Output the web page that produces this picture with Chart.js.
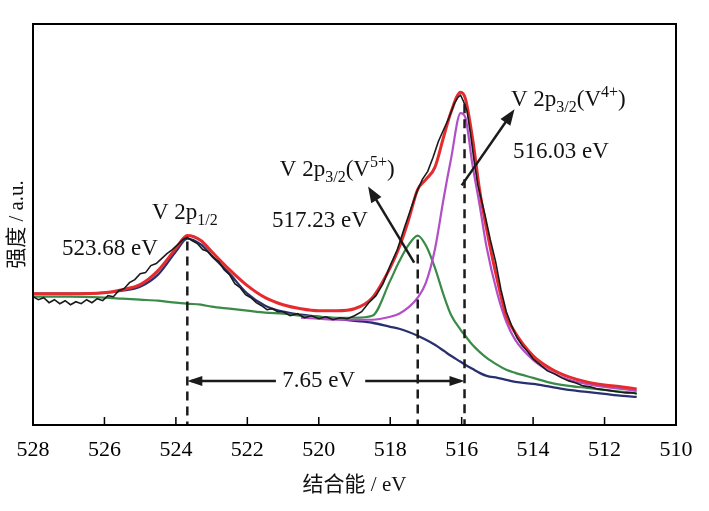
<!DOCTYPE html>
<html>
<head>
<meta charset="utf-8">
<script src="https://cdn.jsdelivr.net/npm/chart.js@4.4.1/dist/chart.umd.min.js"></script>
<style>
  body { margin: 0; background: #fff; }
  #wrap { width: 709px; height: 511px; }
</style>
</head>
<body>
<div id="wrap"><canvas id="xps" width="709" height="511"></canvas></div>
<script>
// binding energy grid of the fitted curves (eV)
const fitEnergy = [528, 527, 526, 525.5, 525, 524.5, 524, 523.68, 523.3, 523, 522.5, 522, 521.5, 521, 520.5, 520, 519.5, 519, 518.5, 518,
  517.75, 517.5, 517.23, 517, 516.75, 516.5, 516.3, 516.03, 515.9, 515.7, 515.5, 515.3, 515, 514.75, 514.5, 514, 513.5, 513, 512.5, 512, 511.5, 511.1];

// fitted envelope (red)
const envelope = [131, 131, 132, 135, 140, 154, 176, 189, 184, 173, 155, 139, 127, 120, 116, 114, 114, 116, 127, 157,
  177, 203, 235, 245, 257, 288, 312, 332, 326, 287, 235, 195, 144, 109, 92, 69, 56, 48, 43, 40, 38, 36];
// V 2p1/2 component + background (navy)
const p12 = [131, 131, 132, 134, 138, 150, 173, 186, 180, 169, 151, 131, 119, 113, 110, 108, 106, 104, 102, 98,
  96, 93, 89, 85, 80, 74, 69, 63, 60, 56, 52, 49, 47, 45, 43, 41, 38, 35, 33, 31, 29, 28];
// V5+ 2p3/2 component + background (green)
const v5 = [128, 128, 127, 126, 125, 124, 122, 121, 120, 118, 116, 114, 112, 111, 109, 108, 107, 107, 109, 144,
  163, 179, 189, 179, 157, 129, 110, 95, 89, 80, 73, 67, 60, 55, 52, 47, 42, 39, 37, 35, 33, 32];
// V4+ 2p3/2 component + background (purple)
const v4 = [null, null, null, null, null, null, null, null, null, null, null, null, null, null, 107, 106, 105, 105, 105, 108,
  111, 117, 127, 142, 175, 227, 265, 311, 307, 260, 220, 177, 131, 103, 85, 65, 53, 45, 41, 38, 36, 34];

// measured spectrum (black)
const rawEnergy = [528.0, 527.85, 527.7, 527.55, 527.4, 527.25, 527.1, 526.95, 526.8, 526.65, 526.5, 526.35, 526.2, 526.05, 525.9, 525.75,
  525.6, 525.45, 525.3, 525.15, 525.0, 524.85, 524.7, 524.55, 524.4, 524.25, 524.1, 523.95, 523.8, 523.68, 523.55, 523.4, 523.25, 523.1,
  522.95, 522.8, 522.65, 522.5, 522.35, 522.2, 522.05, 521.9, 521.75, 521.6, 521.45, 521.3, 521.15, 521.0, 520.8, 520.6, 520.4, 520.2,
  520.0, 519.8, 519.6, 519.4, 519.2, 519.0, 518.8, 518.6, 518.4, 518.2, 518.0, 517.8, 517.6, 517.4, 517.25, 517.1, 516.95, 516.8,
  516.65, 516.5, 516.35, 516.2, 516.1, 516.03, 515.95, 515.85, 515.75, 515.65, 515.55, 515.45, 515.35, 515.2, 515.05, 514.9, 514.75,
  514.6, 514.45, 514.3, 514.15, 514.0, 513.8, 513.6, 513.4, 513.2, 513.0, 512.8, 512.6, 512.4, 512.2, 512.0, 511.8, 511.6, 511.4, 511.2, 511.1];
const rawCounts = [128, 125, 127, 122, 125, 121, 124, 120, 123, 121, 125, 122, 126, 124, 129, 128,
  134, 136, 142, 145, 151, 152, 159, 161, 166, 171, 175, 180, 185, 187, 184, 181, 175, 173,
  167, 163, 155, 150, 141, 137, 130, 127, 122, 119, 115, 116, 113, 113, 109, 111, 107, 109,
  106, 108, 105, 107, 106, 109, 113, 122, 129, 141, 159, 175, 197, 218, 233, 245, 253, 267,
  283, 295, 307, 321, 327, 329, 323, 313, 290, 263, 240, 225, 210, 185, 163, 135, 113,
  99, 87, 79, 73, 66, 60, 54, 51, 47, 44, 42, 39, 38, 36, 35, 34, 33, 32, 32, 31];

const xTicks = [528, 526, 524, 522, 520, 518, 516, 514, 512, 510];
const peakPos = [523.68, 517.23, 515.92];

const SERIF = "'Liberation Serif', 'Noto Sans CJK SC', serif";

function pts(xs, ys) {
  return xs.map(function (x, i) { return { x: x, y: ys[i] }; });
}

function arrowHead(ctx, x1, y1, x2, y2, len, half) {
  const a = Math.atan2(y2 - y1, x2 - x1);
  ctx.beginPath();
  ctx.moveTo(x2, y2);
  ctx.lineTo(x2 - len * Math.cos(a) + half * Math.sin(a), y2 - len * Math.sin(a) - half * Math.cos(a));
  ctx.lineTo(x2 - len * Math.cos(a) - half * Math.sin(a), y2 - len * Math.sin(a) + half * Math.cos(a));
  ctx.closePath();
  ctx.fill();
}

// text with sub / superscripts: parts = [[text, 'n'|'sub'|'sup'], ...]
function richText(ctx, x, y, parts) {
  let cx = x;
  parts.forEach(function (p) {
    let size = 23, dy = 0;
    if (p[1] === 'sub') { size = 16; dy = 6; }
    if (p[1] === 'sup') { size = 16; dy = -9; }
    ctx.font = size + 'px ' + SERIF;
    ctx.fillText(p[0], cx, y + dy);
    cx += ctx.measureText(p[0]).width;
  });
}

const decor = {
  id: 'decor',
  beforeDraw(chart) {
    const ctx = chart.ctx;
    ctx.save();
    ctx.fillStyle = '#fff';
    ctx.fillRect(0, 0, chart.width, chart.height);
    ctx.restore();
  },
  afterDatasetsDraw(chart) {
    const ctx = chart.ctx, xs = chart.scales.x, ys = chart.scales.y, a = chart.chartArea;
    const X = function (v) { return xs.getPixelForValue(v); };
    const Y = function (v) { return ys.getPixelForValue(v); };
    ctx.save();

    // dashed peak markers
    ctx.strokeStyle = '#1b1b1b';
    ctx.lineWidth = 2.5;
    ctx.setLineDash([9, 6]);
    const tops = [183, 185, 320];
    peakPos.forEach(function (e, i) {
      ctx.beginPath();
      ctx.moveTo(X(e), Y(tops[i]));
      ctx.lineTo(X(e), a.bottom);
      ctx.stroke();
    });
    ctx.setLineDash([]);

    // spin-orbit splitting arrow
    ctx.fillStyle = '#1b1b1b';
    ctx.lineWidth = 2.5;
    const yA = Y(44), xL = X(peakPos[0]), xR = X(peakPos[2]);
    ctx.beginPath();
    ctx.moveTo(xL + 4, yA); ctx.lineTo(X(521.2), yA);
    ctx.moveTo(X(518.7), yA); ctx.lineTo(xR - 4, yA);
    ctx.stroke();
    arrowHead(ctx, xL + 20, yA, xL, yA, 15, 5);
    arrowHead(ctx, xR - 20, yA, xR, yA, 15, 5);

    // pointer arrows
    ctx.lineWidth = 2.5;
    [[517.33, 162, 518.62, 238], [516.0, 239, 514.52, 315]].forEach(function (r) {
      const x1 = X(r[0]), y1 = Y(r[1]), x2 = X(r[2]), y2 = Y(r[3]);
      const ang = Math.atan2(y2 - y1, x2 - x1);
      ctx.beginPath();
      ctx.moveTo(x1, y1);
      ctx.lineTo(x2 - 10 * Math.cos(ang), y2 - 10 * Math.sin(ang));
      ctx.stroke();
      arrowHead(ctx, x1, y1, x2, y2, 16, 6);
    });

    // labels
    ctx.fillStyle = '#111';
    ctx.textBaseline = 'alphabetic';
    ctx.textAlign = 'left';
    richText(ctx, X(524.67), Y(205), [['V 2p', 'n'], ['1/2', 'sub']]);
    richText(ctx, X(527.19), Y(170), [['523.68 eV', 'n']]);
    richText(ctx, X(521.09), Y(248), [['V 2p', 'n'], ['3/2', 'sub'], ['(V', 'n'], ['5+', 'sup'], [')', 'n']]);
    richText(ctx, X(521.31), Y(198), [['517.23 eV', 'n']]);
    richText(ctx, X(514.62), Y(318), [['V 2p', 'n'], ['3/2', 'sub'], ['(V', 'n'], ['4+', 'sup'], [')', 'n']]);
    richText(ctx, X(514.56), Y(266), [['516.03 eV', 'n']]);
    ctx.textAlign = 'center';
    ctx.textBaseline = 'middle';
    ctx.font = '23px ' + SERIF;
    ctx.fillText('7.65 eV', X(520.0), yA);

    // inward tick marks and frame
    ctx.strokeStyle = '#000';
    ctx.lineWidth = 1.5;
    ctx.beginPath();
    xTicks.forEach(function (t) {
      ctx.moveTo(X(t), a.bottom);
      ctx.lineTo(X(t), a.bottom - 8);
    });
    ctx.stroke();
    ctx.lineWidth = 2;
    ctx.strokeRect(a.left, a.top, a.right - a.left, a.bottom - a.top);
    ctx.restore();
  }
};

function lineSet(label, data, color, width, order, tension) {
  return {
    label: label, data: data, borderColor: color, backgroundColor: color,
    borderWidth: width, pointRadius: 0, fill: false, order: order,
    tension: tension, cubicInterpolationMode: tension ? 'monotone' : 'default', spanGaps: false
  };
}

new Chart(document.getElementById('xps'), {
  type: 'line',
  data: {
    datasets: [
      lineSet('Raw', pts(rawEnergy, rawCounts), '#1a1a1a', 1.6, 1, 0),
      lineSet('Envelope', pts(fitEnergy, envelope), '#e52b2d', 3, 2, 0.4),
      lineSet('V4+', pts(fitEnergy, v4), '#b24fc6', 2.2, 3, 0.4),
      lineSet('V5+', pts(fitEnergy, v5), '#3a8a48', 2.2, 4, 0.4),
      lineSet('V 2p1/2', pts(fitEnergy, p12), '#29306f', 2.3, 5, 0.4)
    ]
  },
  options: {
    responsive: false,
    animation: false,
    layout: { padding: { top: 24, right: 33, left: 0, bottom: 0 } },
    plugins: { legend: { display: false }, tooltip: { enabled: false } },
    scales: {
      x: {
        type: 'linear', reverse: true, min: 510, max: 528,
        afterBuildTicks: function (s) { s.ticks = xTicks.map(function (v) { return { value: v }; }); },
        afterFit: function (s) { s.height = 86; },
        grid: { display: false, drawTicks: false },
        border: { display: false },
        ticks: { color: '#000', padding: 12, autoSkip: false, maxRotation: 0, font: { family: SERIF, size: 22 } },
        title: { display: true, text: '结合能 / eV', color: '#111', padding: { top: 13, bottom: 13 }, font: { family: SERIF, size: 21 } }
      },
      y: {
        min: 0, max: 400,
        afterFit: function (s) { s.width = 33; },
        grid: { display: false, drawTicks: false },
        border: { display: false },
        ticks: { display: false },
        title: { display: true, text: '强度 / a.u.', color: '#111', padding: { top: 5, bottom: 0 }, font: { family: SERIF, size: 21 } }
      }
    }
  },
  plugins: [decor]
});
</script>
</body>
</html>
